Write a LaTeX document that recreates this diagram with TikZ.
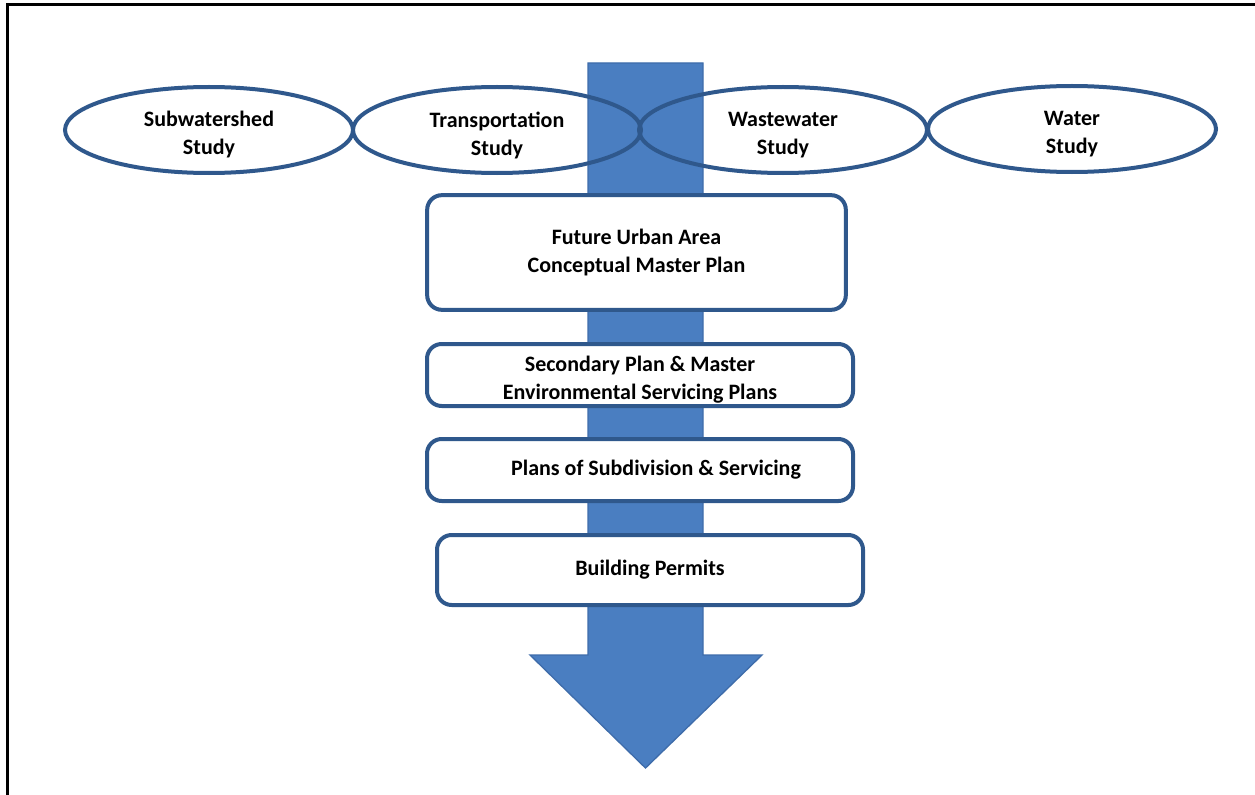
\documentclass[tikz,border=0pt]{standalone}
\usepackage{fontspec}
\setmainfont{Carlito}
\usetikzlibrary{shapes.geometric}

\tikzset{every picture/.style={line width=0.75pt}}
\tikzset{
	study/.style={draw={rgb, 255:red, 47; green, 88; blue, 140 }, line width=3pt, ellipse, minimum width=216pt, minimum height=64.5pt, inner sep=0pt},
	planbox/.style={draw={rgb, 255:red, 47; green, 88; blue, 140 }, line width=3pt, fill=white, rounded corners=11pt, minimum width=319.5pt, minimum height=46.5pt, align=center, font=\fontsize{16.5}{21}\selectfont\bfseries},
	steptext/.style={align=center, inner sep=0pt, yshift=-3.75pt, font=\fontsize{16.5}{21}\selectfont\bfseries}
}

\begin{document}
\begin{tikzpicture}[x=0.75pt,y=0.75pt,yscale=-1,xscale=1]
	\useasboundingbox (0,0) rectangle (1255,795);

	%Frame
	\draw [line width=2.25pt]  (7,795) -- (7,5) -- (1255,5) ;

	%Shape: Down Arrow
	\draw [draw={rgb, 255:red, 62; green, 108; blue, 170 }, fill={rgb, 255:red, 74; green, 126; blue, 193 }, line width=1pt] (588,63) -- (703,63) -- (703,655) -- (762,655) -- (645.5,768) -- (530,655) -- (588,655) -- cycle ;

	% Study ellipses
	\node [study, label={[steptext]center:{Subwatershed\\Study}}] (subwatershed) at (209,130) {};
	\node [study, label={[steptext]center:{Transportation\\Study}}] (transport) at (497,130) {};
	\node [study, label={[steptext]center:{Wastewater\\Study}}] (wastewater) at (783,130) {};
	\node [study, label={[steptext]center:{Water\\Study}}] (water) at (1072,129) {};

	% Plan boxes
	\node [planbox, minimum width=314pt, minimum height=86pt] (master) at (636.5,252.5) {Future Urban Area\\Conceptual Master Plan};
	\node [planbox, label={[steptext]center:{Secondary Plan \& Master\\Environmental Servicing Plans}}] (secondary) at (640,375) {};
	\node [planbox] (subdivision) at (640,470) {\hspace*{24pt}Plans of Subdivision \& Servicing};
	\node [planbox, minimum height=52.5pt] (permits) at (650,570) {Building Permits};

\end{tikzpicture}
\end{document}
